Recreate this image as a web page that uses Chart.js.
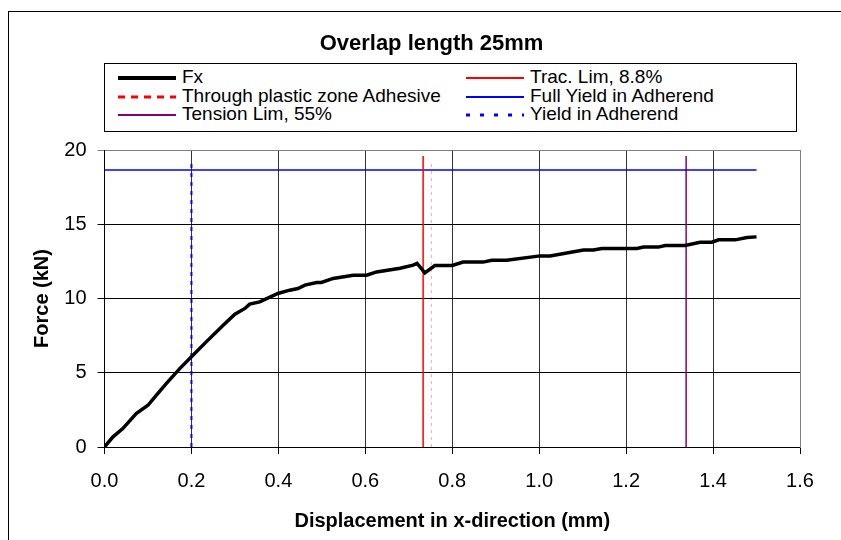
<!DOCTYPE html>
<html>
<head>
<meta charset="utf-8">
<title>Overlap length 25mm</title>
<script src="https://cdn.jsdelivr.net/npm/chart.js@4.4.1/dist/chart.umd.min.js"></script>
<style>
    html, body { margin: 0; padding: 0; background: #fff; overflow: hidden; }
    #frame { position: absolute; left: 8px; top: 11px; width: 1000px; height: 1000px; border: 1px solid #000; }
    #chart { position: absolute; left: 0; top: 0; }
    #legend {
        position: absolute; left: 104px; top: 63px; width: 693px; height: 69px;
        border: 1px solid #000; box-sizing: border-box; background: #fff;
        font-family: "Liberation Sans", Arial, sans-serif; font-size: 19px; color: #000;
    }
    .item { position: absolute; display: flex; align-items: center; height: 18px; white-space: nowrap; }
    .item svg { width: 58px; height: 10px; margin-right: 6px; flex: none; }
</style>
</head>
<body>
<div id="frame"></div>
<canvas id="chart" width="841" height="540"></canvas>
<div id="legend"></div>

<script>
// ── Data ────────────────────────────────────────────────────────
const fxDisp = [0, 0.019, 0.042, 0.073, 0.100, 0.119, 0.142, 0.173, 0.200, 0.234,
    0.273, 0.300, 0.323, 0.334, 0.357, 0.399, 0.426, 0.445, 0.461, 0.488,
    0.499, 0.526, 0.572, 0.603, 0.626, 0.680, 0.710, 0.719, 0.737, 0.760,
    0.800, 0.825, 0.871, 0.891, 0.925, 1.002, 1.025, 1.102, 1.125, 1.144,
    1.225, 1.240, 1.274, 1.290, 1.336, 1.370, 1.397, 1.413, 1.451, 1.478, 1.500];
const fxForce = [0, 0.67, 1.24, 2.25, 2.81, 3.48, 4.27, 5.28, 6.07, 7.08,
    8.20, 8.94, 9.33, 9.62, 9.77, 10.34, 10.56, 10.67, 10.90, 11.08,
    11.08, 11.35, 11.57, 11.57, 11.79, 12.04, 12.25, 12.36, 11.73, 12.22,
    12.22, 12.45, 12.45, 12.58, 12.58, 12.87, 12.87, 13.26, 13.26, 13.37,
    13.37, 13.46, 13.46, 13.57, 13.57, 13.79, 13.79, 13.95, 13.95, 14.11, 14.15];

const tracLimDisp = [0.733, 0.733];
const tracLimForce = [0, 19.6];
const plasticDisp = [0.752, 0.752];
const plasticForce = [0, 19.2];
const fullYieldDisp = [0, 1.5];
const fullYieldForce = [18.65, 18.65];
const tensionLimDisp = [1.338, 1.338];
const tensionLimForce = [0, 19.6];
const yieldDisp = [0.2, 0.2];
const yieldForce = [0, 19.2];

const seriesLabels = ['Fx', 'Trac. Lim, 8.8%', 'Through plastic zone Adhesive',
    'Full Yield in Adherend', 'Tension Lim, 55%', 'Yield in Adherend'];
const xTicks = [0, 0.2, 0.4, 0.6, 0.8, 1.0, 1.2, 1.4, 1.6];
const yTicks = [0, 5, 10, 15, 20];

// ── Styles ───────────────────────────────────────────────────────
const FONT = '"Liberation Sans", Arial, sans-serif';
Chart.defaults.font.family = FONT;
Chart.defaults.color = '#000';

// plot line style / legend sample style per series
const lineStyles = [
    { color: '#000000', width: 3.5, dash: [] },
    { color: '#ff0000', width: 1.5, dash: [] },
    { color: 'rgba(255,0,0,0.35)', width: 1, dash: [3, 4] },
    { color: '#0000ff', width: 1.5, dash: [] },
    { color: '#800080', width: 1.5, dash: [] },
    { color: '#0000ff', width: 2, dash: [4, 5] }
];
const legendStyles = [
    { color: '#000000', width: 4, dash: '' },
    { color: '#ff0000', width: 2, dash: '' },
    { color: '#ff0000', width: 3, dash: '7 6' },
    { color: '#0000ff', width: 2, dash: '' },
    { color: '#800080', width: 2, dash: '' },
    { color: '#0000ff', width: 3, dash: '4 10' }
];

const pts = (xs, ys) => xs.map((x, i) => ({ x, y: ys[i] }));
const seriesPoints = [
    pts(fxDisp, fxForce),
    pts(tracLimDisp, tracLimForce),
    pts(plasticDisp, plasticForce),
    pts(fullYieldDisp, fullYieldForce),
    pts(tensionLimDisp, tensionLimForce),
    pts(yieldDisp, yieldForce)
];

const datasets = seriesLabels.map((label, i) => ({
    label,
    data: seriesPoints[i],
    showLine: true,
    borderColor: lineStyles[i].color,
    borderWidth: lineStyles[i].width,
    borderDash: lineStyles[i].dash,
    pointRadius: 0,
    tension: 0,
    fill: false
}));

const ctx = document.getElementById('chart').getContext('2d');
const chart = new Chart(ctx, {
    type: 'scatter',
    data: { datasets },
    options: {
        responsive: false,
        animation: false,
        layout: { padding: { left: 22, right: 0, top: 0, bottom: 0 } },
        plugins: {
            legend: { display: false },
            tooltip: { enabled: false },
            title: {
                display: true,
                text: 'Overlap length 25mm',
                color: '#000',
                font: { size: 22, weight: 'bold' },
                padding: { top: 31, bottom: 92.6 }
            }
        },
        scales: {
            x: {
                type: 'linear',
                min: 0,
                max: 1.6,
                afterBuildTicks: s => { s.ticks = xTicks.map(v => ({ value: v })); },
                afterFit: s => { s.height = 93; },
                grid: {
                    color: c => (c.tick && c.tick.value === 1.6) ? '#808080' : '#333',
                    tickColor: '#000',
                    tickLength: 7,
                    lineWidth: 1
                },
                border: { display: true, color: '#000', width: 1 },
                ticks: {
                    padding: 15,
                    color: '#000',
                    font: { size: 20 },
                    maxRotation: 0,
                    callback: v => Number(v).toFixed(1)
                },
                title: {
                    display: true,
                    text: 'Displacement in x-direction (mm)',
                    color: '#000',
                    font: { size: 20, weight: 'bold' },
                    padding: { top: 0, bottom: 7 }
                }
            },
            y: {
                type: 'linear',
                position: 'left',
                min: 0,
                max: 20,
                afterBuildTicks: s => { s.ticks = yTicks.map(v => ({ value: v })); },
                afterFit: s => { s.width = 82.5; },
                grid: {
                    color: c => (c.tick && c.tick.value === 20) ? '#808080' : '#000',
                    tickColor: c => (c.tick && c.tick.value === 20) ? '#808080' : '#000',
                    tickLength: 7,
                    lineWidth: 1
                },
                border: { display: true, color: '#000', width: 1 },
                ticks: {
                    padding: 11,
                    color: '#000',
                    font: { size: 20 }
                },
                title: {
                    display: true,
                    text: 'Force (kN)',
                    color: '#000',
                    font: { size: 20, weight: 'bold' },
                    padding: { top: 8, bottom: 0 }
                }
            },
            y2: {
                type: 'linear',
                position: 'right',
                display: true,
                afterFit: s => { s.width = 41; },
                grid: { display: false, drawTicks: false },
                ticks: { display: false },
                border: { display: true, color: '#808080', width: 1 }
            }
        }
    }
});

// ── Two-column legend built from the chart's datasets ────────────
const legendEl = document.getElementById('legend');
chart.data.datasets.forEach((ds, i) => {
    const st = legendStyles[i];
    const col = i % 2, row = Math.floor(i / 2);
    const item = document.createElement('div');
    item.className = 'item';
    item.style.left = (col === 0 ? 13 : 361) + 'px';
    item.style.top = (4 + row * 18.5) + 'px';
    item.innerHTML =
        `<svg viewBox="0 0 58 10"><line x1="0" y1="6" x2="58" y2="6" stroke="${st.color}"
            stroke-width="${st.width}" ${st.dash ? `stroke-dasharray="${st.dash}"` : ''}/></svg>` +
        `<span>${ds.label}</span>`;
    legendEl.appendChild(item);
});
</script>
</body>
</html>
